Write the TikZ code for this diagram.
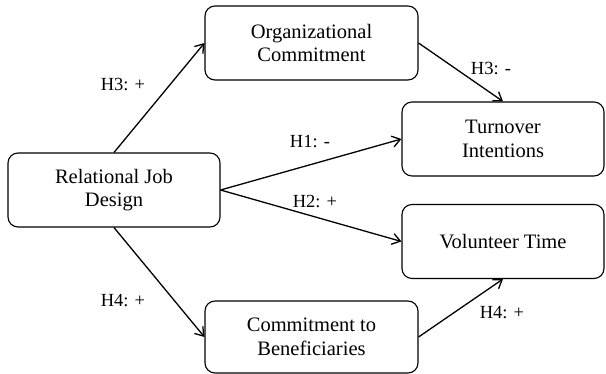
\documentclass[tikz,border=0pt]{standalone}
\usepackage{fontspec}
\setmainfont{Liberation Serif}
\usetikzlibrary{arrows.meta}

\begin{document}
\begin{tikzpicture}[x=1pt,y=-1pt,>={Straight Barb[length=8pt,width=11pt]},
  box/.style={draw,rounded corners=10pt,line width=1.1pt,align=center,
    font=\fontsize{20.5}{23.5}\selectfont,inner sep=0pt,minimum height=74pt},
  hyp/.style={font=\fontsize{18.5}{20}\selectfont,inner sep=0pt},
  link/.style={->,line width=1.3pt}]
  \useasboundingbox (0,0) rectangle (606,374);
  % boxes
  \node[box,minimum width=212pt] (rjd) at (114,190) {Relational Job\\Design};
  \node[box,minimum width=213pt] (oc) at (311.5,43) {Organizational\\Commitment};
  \node[box,minimum width=202pt] (ti) at (503,139) {Turnover\\Intentions};
  \node[box,minimum width=202pt] (vt) at (503,241.5) {Volunteer Time};
  \node[box,minimum width=213pt,minimum height=72pt] (cb) at (311.5,337) {Commitment to\\Beneficiaries};
  % hypotheses
  \draw[link] (rjd.north) -- (oc.west);
  \draw[link] (oc.east) -- (ti.north);
  \draw[link] (rjd.east) -- (ti.west);
  \draw[link] (rjd.east) -- (vt.west);
  \draw[link] (rjd.south) -- (cb.west);
  \draw[link] (cb.east) -- (vt.south);
  % labels
  \node[hyp] (h3a) at (123,85) {H3: +};
  \node[hyp] (h3b) at (491,69) {H3: -};
  \node[hyp] (h1) at (310,142) {H1: -};
  \node[hyp] (h2) at (315,202) {H2: +};
  \node[hyp] (h4a) at (123,301) {H4: +};
  \node[hyp] (h4b) at (502,313) {H4: +};
\end{tikzpicture}
\end{document}
